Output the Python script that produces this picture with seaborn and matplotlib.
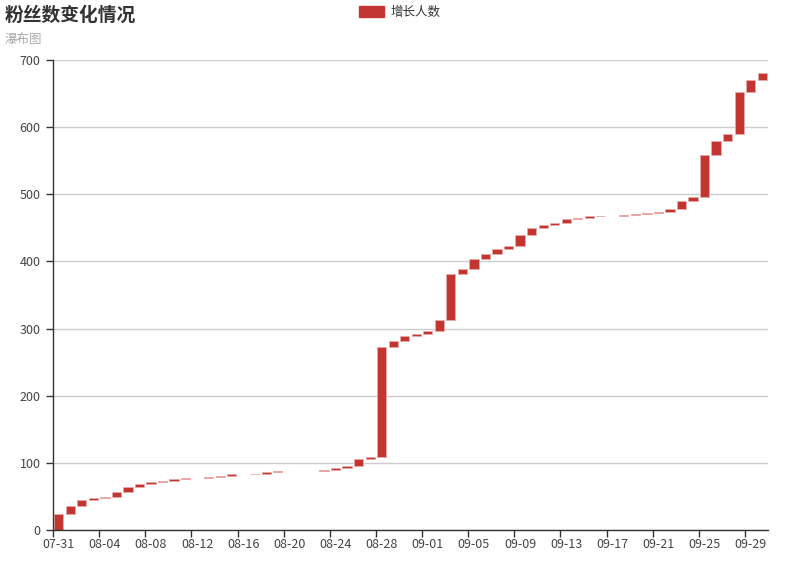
import numpy as np
import pandas as pd
import matplotlib
matplotlib.use("Agg")
import matplotlib.pyplot as plt
import seaborn as sns
from matplotlib.patches import Patch
from matplotlib.ticker import FixedLocator

# ---- data ----
dates = (["07-31"] + [f"08-{d:02d}" for d in range(1, 32)]
         + [f"09-{d:02d}" for d in range(1, 31)])
increase = [24, 12, 8, 3, 2, 7, 8, 4, 3, 2, 3, 2, 0, 1, 1, 3, 0, 1, 2, 2,
            0, 0, 0, 1, 3, 4, 10, 2, 165, 8, 8, 3, 4, 17, 69, 7, 15, 7, 8, 4,
            16, 11, 5, 2, 6, 2, 2, 1, 0, 1, 2, 1, 2, 4, 12, 6, 62, 21, 11, 63,
            17, 11]
title = "粉丝数变化情况"
subtitle = "瀑布图"
series_name = "增长人数"
y_ticks = [0, 100, 200, 300, 400, 500, 600, 700]

base = list(np.concatenate([[0], np.cumsum(increase)[:-1]]))
df = pd.DataFrame({"date": dates, "increase": increase})

sns.set_theme(style="white")
plt.rcParams["font.family"] = ["Noto Sans CJK SC", "DejaVu Sans"]

W, H = 800, 567
fig = plt.figure(figsize=(W / 100, H / 100), dpi=100)
ax = fig.add_axes([53 / W, (H - 530) / H, (768 - 53) / W, (530 - 60) / H])

red = "#c23531"
sns.barplot(data=df, x="date", y="increase", order=dates, ax=ax,
            color=red, saturation=1, width=0.8, bottom=base,
            edgecolor="#e9aaa8", linewidth=0.6)
for p in ax.patches:
    p.set_facecolor(red)
    if p.get_height() == 0:
        p.set_visible(False)

ax.set_xlim(-0.5, len(dates) - 0.5)
ax.set_ylim(0, 700)
ax.set_yticks(y_ticks)
ax.yaxis.grid(True, color="#cccccc", linewidth=1)
ax.set_axisbelow(True)
ax.set_xlabel("")
ax.set_ylabel("")

# x labels at every 4th category centre, ticks at band boundaries
lab_idx = list(range(0, len(dates), 4))
ax.set_xticks(lab_idx)
ax.set_xticklabels([dates[i] for i in lab_idx])
ax.xaxis.set_minor_locator(FixedLocator([i - 0.5 for i in lab_idx]))
ax.tick_params(axis="x", which="major", length=0, pad=6, labelsize=9, labelcolor="#444444")
ax.tick_params(axis="x", which="minor", length=5, width=1, color="#333333", bottom=True)
ax.tick_params(axis="y", which="major", length=5, width=1, color="#333333",
               left=True, pad=4, labelsize=9, labelcolor="#444444")

for s in ["top", "right"]:
    ax.spines[s].set_visible(False)
for s in ["left", "bottom"]:
    ax.spines[s].set_color("#333333")
    ax.spines[s].set_linewidth(1)

fig.text(5 / W, 1 - 6 / H, title, fontsize=13.5, fontweight="bold",
         color="#333333", va="top", ha="left")
fig.text(5 / W, 1 - 33 / H, subtitle, fontsize=9, color="#aaaaaa",
         va="top", ha="left")

fig.legend(handles=[Patch(facecolor=red, edgecolor=red, label=series_name)],
           loc="center", bbox_to_anchor=(400 / W, 1 - 12 / H), frameon=False,
           fontsize=9, handlelength=2.0, handleheight=1.0, handletextpad=0.5,
           labelcolor="#333333")

fig.savefig("out.png", dpi=100)
